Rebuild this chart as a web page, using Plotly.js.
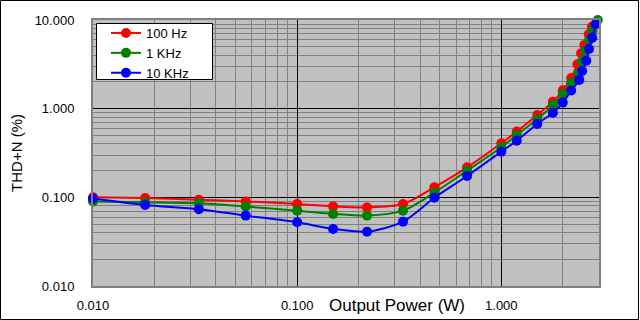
<!DOCTYPE html>
<html><head><meta charset="utf-8">
<script src="https://cdn.plot.ly/plotly-3.0.1.min.js"></script>
<style>html,body{margin:0;padding:0;background:#fff}#chart{width:640px;height:320px}</style>
</head><body><div id="chart"></div>
<script>
const seriesNames = ['100 Hz', '1 KHz', '10 KHz'];
const seriesColors = ['#FF0000', '#008000', '#0000FF'];

const x100 = [0.01,0.018,0.033,0.056,0.1,0.15,0.22,0.33,0.47,0.68,1.0,1.19,1.5,1.79,2.0,2.2,2.36,2.46,2.55,2.68,2.78];
const y100 = [0.100,0.098,0.094,0.090,0.084,0.079,0.077,0.084,0.130,0.218,0.407,0.551,0.849,1.20,1.61,2.22,3.16,4.22,5.23,6.9,8.4];

const x1k = [0.01,0.018,0.033,0.056,0.1,0.15,0.22,0.33,0.47,0.68,1.0,1.19,1.5,1.79,2.0,2.2,2.39,2.48,2.58,2.69,2.8,2.97];
const y1k = [0.090,0.088,0.0857,0.0787,0.0708,0.065,0.0622,0.0708,0.113,0.200,0.367,0.505,0.759,1.10,1.47,1.96,2.55,3.4,4.5,5.9,7.6,10.0];

const x10k = [0.01,0.018,0.033,0.056,0.1,0.15,0.22,0.33,0.47,0.68,1.0,1.19,1.5,1.79,2.0,2.2,2.41,2.49,2.61,2.69,2.79,2.90];
const y10k = [0.097,0.082,0.0734,0.0622,0.0524,0.044,0.041,0.0532,0.099,0.174,0.327,0.435,0.673,0.90,1.17,1.60,2.11,2.66,3.47,4.71,6.31,9.0];

const xTickVals = [0.01, 0.1, 1];
const xTickText = ['0.010', '0.100', '1.000'];
const yTickVals = [0.01, 0.1, 1, 10];
const yTickText = ['0.010', '0.100', '1.000', '10.000'];

const xTitle = 'Output Power (W)';
const yTitle = 'THD+N (%)';

function minorVals(decades, maxV) {
  const out = [];
  decades.forEach(d => { for (let k = 2; k <= 9; k++) { const v = d * k; if (v <= maxV) out.push(v); } });
  return out;
}

const xs = [x100, x1k, x10k];
const ys = [y100, y1k, y10k];
const traces = seriesNames.map((n, i) => ({
  type: 'scatter', mode: 'lines+markers', name: n,
  x: xs[i], y: ys[i],
  line: {color: seriesColors[i], width: 2, shape: 'spline', smoothing: 0.8},
  marker: {color: seriesColors[i], size: 10},
  cliponaxis: false
}));

const L = 93, R = 599, T = 20, B = 286, W = 640, H = 320;
const px = p => (p - L) / (R - L);
const py = p => (B - p) / (B - T);
const font = 'Liberation Sans, Arial, sans-serif';

const layout = {
  width: W, height: H,
  margin: {l: L, r: W - R, t: T, b: H - B, pad: 0},
  paper_bgcolor: '#FFFFFF', plot_bgcolor: '#C0C0C0',
  font: {family: font, size: 13, color: '#000'},
  showlegend: true,
  legend: {x: px(106), y: py(18), xanchor: 'left', yanchor: 'top',
    bgcolor: 'rgba(0,0,0,0)', borderwidth: 0,
    font: {family: font, size: 13, color: '#000'}, tracegroupgap: 0, itemwidth: 30},
  xaxis: {type: 'log', range: [-2, Math.log10(3.01)],
    tickmode: 'array', tickvals: xTickVals, ticktext: xTickText, ticks: '',
    ticklabelstandoff: 6,
    showgrid: true, gridcolor: '#000000', gridwidth: 1,
    minor: {tickmode: 'array', tickvals: minorVals([0.01, 0.1, 1], 3.0), showgrid: true, gridcolor: '#808080', gridwidth: 1, ticks: ''},
    showline: true, linecolor: '#808080', linewidth: 2, mirror: true, zeroline: false,
    tickfont: {family: font, size: 13, color: '#000'}},
  yaxis: {type: 'log', range: [-2, 1],
    tickmode: 'array', tickvals: yTickVals, ticktext: yTickText, ticks: '',
    ticklabelstandoff: 14,
    showgrid: true, gridcolor: '#000000', gridwidth: 1,
    minor: {tickmode: 'array', tickvals: minorVals([0.01, 0.1, 1], 10), showgrid: true, gridcolor: '#808080', gridwidth: 1, ticks: ''},
    showline: true, linecolor: '#808080', linewidth: 2, mirror: true, zeroline: false,
    tickfont: {family: font, size: 13, color: '#000'},
    title: {text: yTitle, font: {family: font, size: 15, color: '#000'}, standoff: 8}},
  annotations: [{text: xTitle, xref: 'paper', yref: 'paper', x: px(397), y: py(305),
    xanchor: 'center', yanchor: 'middle', showarrow: false,
    font: {family: font, size: 17, color: '#000'}}],
  shapes: [
    {type: 'rect', xref: 'paper', yref: 'paper', x0: px(96.5), x1: px(212.5), y0: py(79.5), y1: py(23.5),
      line: {color: '#000000', width: 1}, fillcolor: '#FFFFFF', layer: 'above'},
    {type: 'rect', xref: 'paper', yref: 'paper', x0: px(0.5), x1: px(638.5), y0: py(319.5), y1: py(0.5),
      line: {color: '#000000', width: 1}, fillcolor: 'rgba(0,0,0,0)', layer: 'above'}]
};

Plotly.newPlot('chart', traces, layout, {displayModeBar: false, staticPlot: true});
</script>
</body></html>
